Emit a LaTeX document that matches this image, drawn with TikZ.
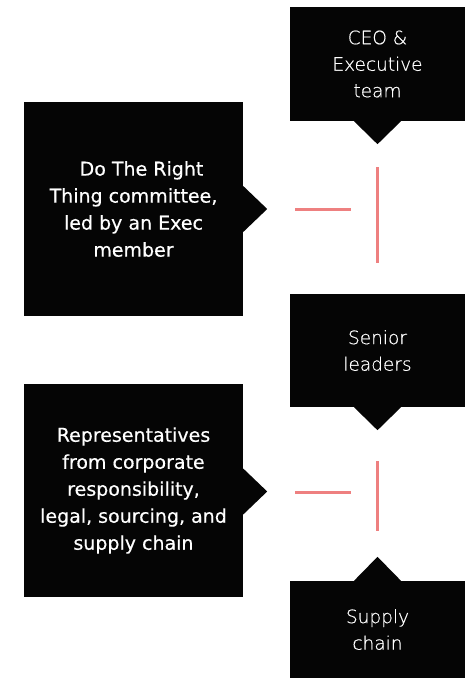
\documentclass[tikz,border=0pt]{standalone}
\usepackage{fontspec}
\setmainfont{DejaVu Sans}
\newfontfamily\groupfont{DejaVu Sans}[FakeBold=0.4]
\newfontfamily\thinfont{DejaVu Sans ExtraLight}[FakeBold=0.5]
\usetikzlibrary{calc}
\definecolor{boxblack}{RGB}{5,5,5}
\definecolor{linkred}{RGB}{238,128,128}
\tikzset{
  panel/.style={fill=boxblack, text=white, inner sep=0pt, align=center},
  leader/.style={panel, minimum width=175pt, font=\thinfont\fontsize{18.5}{26.5}\selectfont},
  group/.style={panel, minimum width=219pt, minimum height=214pt, font=\groupfont\fontsize{19}{27}\selectfont},
  tie/.style={draw=linkred, line width=3pt},
}

\begin{document}
\begin{tikzpicture}[x=1pt,y=-1pt]
        \useasboundingbox (0,0) rectangle (471,678);
        % chain on the right
        \node[leader, minimum height=114pt] (ceo) at (377.5,64) {CEO \&\\Executive\\team};
        \node[leader, minimum height=113pt] (senior) at (377.5,350.5) {Senior\\leaders};
        \node[leader, minimum height=97pt] (supply) at (377.5,629.5) {Supply\\chain};
        % groups on the left
        \node[group] (dtrt) at (133.5,209) {\hspace*{16pt}Do The Right\\Thing committee,\\led by an Exec\\member};
        \node[group, minimum height=213pt] (reps) at (133.5,490.5) {Representatives\\from corporate\\responsibility,\\legal, sourcing, and\\supply chain};

        % pointers
        \fill[boxblack] ($(ceo.south)+(-23.5,0)$) -- ++(23.5,23) -- ++(23.5,-23) -- cycle;
        \fill[boxblack] ($(senior.south)+(-23.5,0)$) -- ++(23.5,23) -- ++(23.5,-23) -- cycle;
        \fill[boxblack] ($(supply.north)+(-23.5,0)$) -- ++(23.5,-24) -- ++(23.5,24) -- cycle;
        \fill[boxblack] ($(dtrt.east)+(0,-23)$) -- ++(24,23) -- ++(-24,23) -- cycle;
        \fill[boxblack] ($(reps.east)+(0,-22)$) -- ++(24,23) -- ++(-24,23) -- cycle;

        % red links
        \coordinate (t1) at ($(ceo.south)+(0,46)$);
        \coordinate (b1) at ($(senior.north)+(0,-31)$);
        \coordinate (t2) at ($(senior.south)+(0,54)$);
        \coordinate (b2) at ($(supply.north)+(0,-50)$);
        \draw[tie] (t1) -- (b1);
        \draw[tie] (t2) -- (b2);
        \draw[tie] ($(dtrt.east)+(52,0)$) -- ++(56,0);
        \draw[tie] ($(reps.east)+(52,1.5)$) -- ++(56,0);
\end{tikzpicture}
\end{document}
